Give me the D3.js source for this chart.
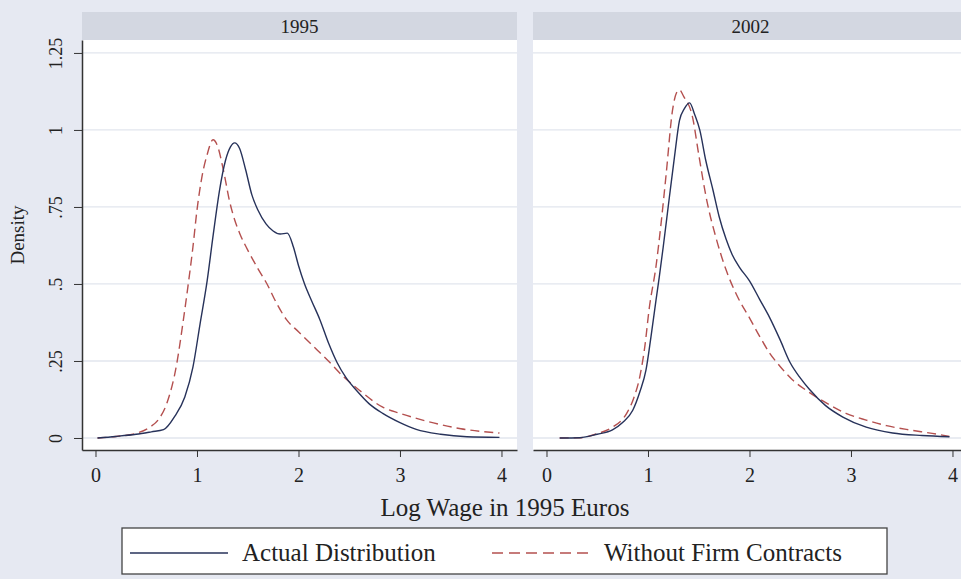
<!DOCTYPE html>
<html>
<head>
<meta charset="utf-8">
<script src="https://cdn.jsdelivr.net/npm/d3@7"></script>
<style>
  body { margin: 0; background: #e6e9f2; }
  svg { display: block; font-family: "Liberation Serif", "DejaVu Serif", serif; }
</style>
</head>
<body>
<svg id="chart" width="961" height="579"></svg>
<script>
// panels
var panels = ['1995', '2002'];
var seriesNames = ['Actual Distribution', 'Without Firm Contracts'];

// [log wage, density]
var actual1995 = [[0.02,0],[0.2,0.005],[0.4,0.012],[0.55,0.02],[0.67,0.027],[0.78,0.07],[0.88,0.133],[0.96,0.23],[1.03,0.37],[1.1,0.51],[1.16,0.66],[1.22,0.8],[1.28,0.9],[1.33,0.945],[1.37,0.958],[1.42,0.94],[1.48,0.87],[1.54,0.79],[1.6,0.74],[1.68,0.695],[1.75,0.672],[1.82,0.662],[1.89,0.665],[1.95,0.62],[2.0,0.56],[2.06,0.5],[2.13,0.445],[2.21,0.385],[2.3,0.305],[2.38,0.245],[2.47,0.195],[2.57,0.155],[2.7,0.11],[2.83,0.08],[3.0,0.05],[3.16,0.028],[3.4,0.012],[3.66,0.004],[3.98,0.002]];
var without1995 = [[0.02,0],[0.2,0.005],[0.4,0.015],[0.54,0.036],[0.62,0.06],[0.7,0.11],[0.8,0.24],[0.86,0.37],[0.91,0.49],[0.96,0.62],[1.0,0.74],[1.05,0.85],[1.1,0.92],[1.158,0.968],[1.2,0.95],[1.26,0.87],[1.32,0.77],[1.36,0.72],[1.42,0.665],[1.5,0.61],[1.6,0.55],[1.69,0.5],[1.78,0.44],[1.88,0.385],[2.0,0.345],[2.14,0.3],[2.28,0.255],[2.44,0.2],[2.6,0.155],[2.83,0.1],[3.0,0.08],[3.33,0.049],[3.6,0.03],[3.98,0.016]];
var actual2002 = [[0.13,0],[0.33,0.001],[0.5,0.012],[0.65,0.026],[0.75,0.05],[0.85,0.09],[0.92,0.15],[0.98,0.22],[1.03,0.33],[1.08,0.45],[1.11,0.52],[1.15,0.62],[1.21,0.78],[1.26,0.91],[1.31,1.03],[1.36,1.07],[1.41,1.088],[1.46,1.05],[1.51,1.0],[1.57,0.9],[1.64,0.805],[1.7,0.72],[1.77,0.645],[1.83,0.595],[1.9,0.555],[2.0,0.51],[2.1,0.45],[2.2,0.39],[2.3,0.32],[2.4,0.245],[2.5,0.195],[2.59,0.158],[2.75,0.105],[2.92,0.068],[3.15,0.035],[3.41,0.016],[3.7,0.008],[3.97,0.004]];
var without2002 = [[0.13,0],[0.33,0.001],[0.5,0.014],[0.65,0.035],[0.79,0.08],[0.86,0.13],[0.92,0.2],[0.97,0.3],[1.01,0.415],[1.08,0.56],[1.13,0.7],[1.18,0.86],[1.24,1.06],[1.28,1.12],[1.31,1.13],[1.35,1.11],[1.44,1.04],[1.5,0.92],[1.58,0.77],[1.67,0.65],[1.77,0.545],[1.88,0.46],[2.0,0.39],[2.1,0.33],[2.2,0.275],[2.3,0.233],[2.42,0.19],[2.58,0.15],[2.76,0.113],[2.95,0.08],[3.15,0.058],[3.35,0.04],[3.58,0.026],[3.8,0.015],[3.97,0.005]];

var xTicks = [0, 1, 2, 3, 4];
var yTicks = [0, 0.25, 0.5, 0.75, 1, 1.25];
var yTickLabels = ['0', '.25', '.5', '.75', '1', '1.25'];

var panelData = [[actual1995, without1995], [actual2002, without2002]];

var colActual = '#27325a', colWithout = '#b4504f';

var svg = d3.select('#chart');
var plotTop = 40, plotBottom = 450, pw = 435;
var panelLeft = [82, 533];

var x = d3.scaleLinear().domain([-0.133, 4.153]).range([0, pw]);
var y = d3.scaleLinear().domain([-0.039, 1.292]).range([plotBottom - plotTop, 0]);

var line = d3.line()
  .x(function (d) { return x(d[0]); })
  .y(function (d) { return y(d[1]); })
  .curve(d3.curveMonotoneX);

panels.forEach(function (name, i) {
  var g = svg.append('g').attr('transform', 'translate(' + panelLeft[i] + ',' + plotTop + ')');

  // header strip
  g.append('rect').attr('x', 0).attr('y', -28).attr('width', pw).attr('height', 28)
    .attr('fill', '#d3d7e1');
  g.append('text').attr('x', pw / 2).attr('y', -7).attr('text-anchor', 'middle')
    .attr('font-size', 19).attr('fill', '#222').text(name);

  g.append('rect').attr('width', pw).attr('height', plotBottom - plotTop).attr('fill', '#fff');

  // gridlines
  g.selectAll('.grid').data(yTicks).enter().append('line')
    .attr('x1', 0).attr('x2', pw)
    .attr('y1', function (d) { return y(d); })
    .attr('y2', function (d) { return y(d); })
    .attr('stroke', '#e2e6ee').attr('stroke-width', 1.3);

  // x axis
  var xa = g.append('g').attr('transform', 'translate(0,' + (plotBottom - plotTop) + ')')
    .call(d3.axisBottom(x).tickValues(xTicks).tickSize(7).tickSizeOuter(0).tickPadding(11).tickFormat(d3.format('d')));
  xa.select('.domain').attr('stroke', '#333').attr('stroke-width', 1.5);
  xa.selectAll('.tick line').attr('stroke', '#333');
  xa.selectAll('text').attr('font-size', 20).attr('font-family', 'Liberation Serif').attr('fill', '#222');

  if (i === 0) {
    var ya = g.append('g')
      .call(d3.axisLeft(y).tickValues(yTicks).tickSize(8).tickSizeOuter(0).tickPadding(6)
        .tickFormat(function (d, k) { return yTickLabels[k]; }));
    ya.select('.domain').attr('stroke', '#333').attr('stroke-width', 1.5);
    ya.selectAll('.tick line').attr('stroke', '#333');
    ya.selectAll('text')
      .attr('font-size', 18).attr('font-family', 'Liberation Serif').attr('fill', '#222')
      .attr('text-anchor', 'middle').attr('x', -26).attr('dy', '0.35em')
      .attr('transform', 'rotate(-90,-26,0)');
  }

  g.append('path').datum(panelData[i][1]).attr('d', line)
    .attr('fill', 'none').attr('stroke', colWithout).attr('stroke-width', 1.4)
    .attr('stroke-dasharray', '9,5');
  g.append('path').datum(panelData[i][0]).attr('d', line)
    .attr('fill', 'none').attr('stroke', colActual).attr('stroke-width', 1.4);
});

// axis titles
svg.append('text').attr('x', 505).attr('y', 516).attr('text-anchor', 'middle')
  .attr('font-size', 25).attr('fill', '#222').text('Log Wage in 1995 Euros');
svg.append('text').attr('transform', 'translate(24,235) rotate(-90)')
  .attr('text-anchor', 'middle').attr('font-size', 19).attr('fill', '#222').text('Density');

// legend
var lg = svg.append('g');
lg.append('rect').attr('x', 122).attr('y', 528).attr('width', 765).attr('height', 46)
  .attr('fill', '#fff').attr('stroke', '#444').attr('stroke-width', 1.3);
var legendItems = [
  { name: seriesNames[0], color: colActual, dash: null, x0: 130 },
  { name: seriesNames[1], color: colWithout, dash: '11,6', x0: 492 }
];
legendItems.forEach(function (d) {
  lg.append('line').attr('x1', d.x0).attr('x2', d.x0 + 98).attr('y1', 553).attr('y2', 553)
    .attr('stroke', d.color).attr('stroke-width', 1.4).attr('stroke-dasharray', d.dash);
  lg.append('text').attr('x', d.x0 + 112).attr('y', 561).attr('font-size', 25)
    .attr('fill', '#222').text(d.name);
});
</script>
</body>
</html>
